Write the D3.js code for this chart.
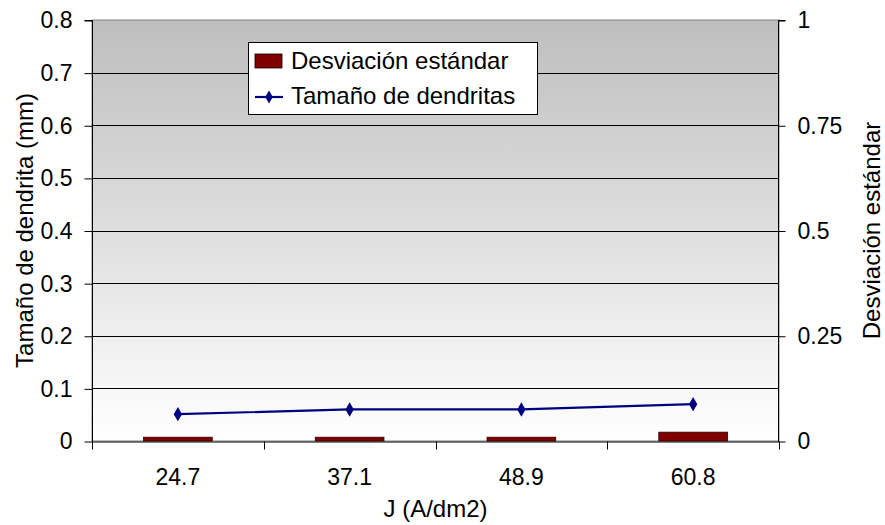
<!doctype html>
<html>
<head>
    <meta charset="UTF-8">
    <title>dendritas</title>
    <script src="https://cdn.jsdelivr.net/npm/d3@7"></script>
    <style>
        body { margin: 0; background: #fff; }
        text { font-family: Arial, "Liberation Sans", sans-serif; fill: #000; }
    </style>
</head>
<body>
<svg width="885" height="525"></svg>
<script>
    // datos
    var categorias = ["24.7", "37.1", "48.9", "60.8"];
    var desviacion = [0.009, 0.009, 0.009, 0.021];
    var tamano = [0.051, 0.060, 0.060, 0.070];
    var ticksIzq = [0, 0.1, 0.2, 0.3, 0.4, 0.5, 0.6, 0.7, 0.8];
    var ticksDer = [0, 0.25, 0.5, 0.75, 1];

    var svg = d3.select("svg");
    var pIzq = 92, pDer = 779, pSup = 20, pInf = 441;

    var x = d3.scaleBand().domain(categorias).range([pIzq, pDer]).paddingInner(0.6).paddingOuter(0.3);
    var xc = d3.scaleBand().domain(categorias).range([pIzq, pDer]);
    var yL = d3.scaleLinear().domain([0, 0.8]).range([pInf, pSup]);
    var yR = d3.scaleLinear().domain([0, 1]).range([pInf, pSup]);

    var grad = svg.append("defs").append("linearGradient")
        .attr("id", "fondo").attr("x1", 0).attr("y1", 0).attr("x2", 0).attr("y2", 1);
    grad.append("stop").attr("offset", "0%").attr("stop-color", "#bebebe");
    grad.append("stop").attr("offset", "100%").attr("stop-color", "#ffffff");

    svg.append("rect")
        .attr("x", pIzq).attr("y", pSup)
        .attr("width", pDer - pIzq).attr("height", pInf - pSup)
        .attr("fill", "url(#fondo)")
        .attr("stroke", "#808080").attr("stroke-width", 1);

    // lineas de division
    svg.append("g").selectAll("line")
        .data(ticksIzq.filter(function(d) { return d > 0 && d < 0.8; }))
        .enter().append("line")
        .attr("x1", pIzq).attr("x2", pDer)
        .attr("y1", function(d) { return Math.round(yL(d)) + 0.5; })
        .attr("y2", function(d) { return Math.round(yL(d)) + 0.5; })
        .attr("stroke", "#000").attr("stroke-width", 1);

    // eje izquierdo
    var ejeIzq = svg.append("g")
        .attr("transform", "translate(" + (pIzq + 0.5) + ",0.5)")
        .call(d3.axisLeft(yL).tickValues(ticksIzq).tickSize(8).tickPadding(12)
            .tickFormat(function(d) { return d === 0 ? "0" : d3.format(".1f")(d); }));

    // eje derecho
    var ejeDer = svg.append("g")
        .attr("transform", "translate(" + (pDer - 0.5) + ",0.5)")
        .call(d3.axisRight(yR).tickValues(ticksDer).tickSize(7).tickPadding(12)
            .tickFormat(function(d) { return String(d); }));

    // eje x
    var ejeX = svg.append("g")
        .attr("transform", "translate(0," + (pInf + 0.5) + ")")
        .call(d3.axisBottom(xc).tickSize(0).tickPadding(27));
    ejeX.append("g").selectAll("line")
        .data(d3.range(categorias.length + 1))
        .enter().append("line")
        .attr("x1", function(i) { return Math.round(pIzq + i * xc.bandwidth()) + 0.5; })
        .attr("x2", function(i) { return Math.round(pIzq + i * xc.bandwidth()) + 0.5; })
        .attr("y1", 0).attr("y2", 8)
        .attr("stroke", "#000");

    [ejeIzq, ejeDer, ejeX].forEach(function(g) {
        g.selectAll("path.domain").attr("stroke", "#000").attr("stroke-width", 1);
        g.selectAll(".tick line").attr("stroke", "#000");
        g.selectAll("text").attr("font-size", "23px").attr("font-family", "Arial, 'Liberation Sans', sans-serif");
    });
    ejeIzq.select("path.domain").attr("d", "M-8," + pSup + "H0V" + pInf);
    ejeDer.select("path.domain").attr("d", "M7," + pSup + "H0V" + pInf);

    // barras
    svg.append("g").selectAll("rect")
        .data(desviacion)
        .enter().append("rect")
        .attr("x", function(d, i) { return x(categorias[i]); })
        .attr("y", function(d) { return yR(d); })
        .attr("width", x.bandwidth())
        .attr("height", function(d) { return pInf - yR(d); })
        .attr("fill", "#800000")
        .attr("stroke", "#2a0000").attr("stroke-width", 0.8);

    // linea
    var linea = d3.line()
        .x(function(d, i) { return xc(categorias[i]) + xc.bandwidth() / 2; })
        .y(function(d) { return yL(d); });
    svg.append("path")
        .datum(tamano)
        .attr("d", linea)
        .attr("fill", "none")
        .attr("stroke", "#000080").attr("stroke-width", 2.2);
    svg.append("g").selectAll("path")
        .data(tamano)
        .enter().append("path")
        .attr("d", d3.symbol().type(d3.symbolDiamond).size(60))
        .attr("transform", function(d, i) {
            return "translate(" + (xc(categorias[i]) + xc.bandwidth() / 2) + "," + yL(d) + ")";
        })
        .attr("fill", "#000080");

    // titulos de ejes
    svg.append("text")
        .attr("x", (pIzq + pDer) / 2).attr("y", 517)
        .attr("text-anchor", "middle").attr("font-size", "24px")
        .text("J (A/dm2)");
    svg.append("text")
        .attr("transform", "translate(33," + (pSup + pInf) / 2 + ") rotate(-90)")
        .attr("text-anchor", "middle").attr("font-size", "24px")
        .text("Tamaño de dendrita (mm)");
    svg.append("text")
        .attr("transform", "translate(880," + (pSup + pInf) / 2 + ") rotate(-90)")
        .attr("text-anchor", "middle").attr("font-size", "24px")
        .text("Desviación estándar");

    // leyenda
    var ley = svg.append("g").attr("transform", "translate(248,42)");
    ley.append("rect")
        .attr("x", 0.5).attr("y", 0.5).attr("width", 289).attr("height", 72)
        .attr("fill", "#fff").attr("stroke", "#000");
    ley.append("rect")
        .attr("x", 7).attr("y", 12).attr("width", 27).attr("height", 14)
        .attr("fill", "#800000").attr("stroke", "#000").attr("stroke-width", 0.8);
    ley.append("text").attr("x", 43).attr("y", 27).attr("font-size", "24px")
        .text("Desviación estándar");
    ley.append("line")
        .attr("x1", 7).attr("x2", 35).attr("y1", 55).attr("y2", 55)
        .attr("stroke", "#000080").attr("stroke-width", 2.2);
    ley.append("path")
        .attr("d", d3.symbol().type(d3.symbolDiamond).size(50))
        .attr("transform", "translate(21,55)")
        .attr("fill", "#000080");
    ley.append("text").attr("x", 43).attr("y", 62).attr("font-size", "24px")
        .text("Tamaño de dendritas");
</script>
</body>
</html>
